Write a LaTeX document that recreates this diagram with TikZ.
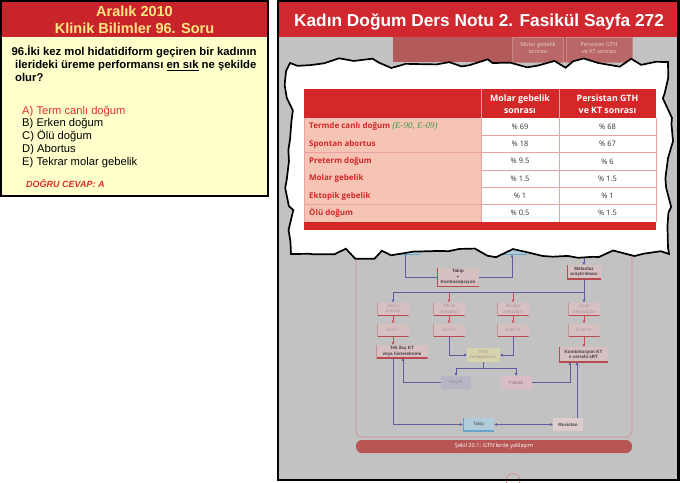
\documentclass[tikz,border=0pt]{standalone}
\usepackage{fontspec}
\setmainfont{Liberation Sans}
\newfontfamily\tablofont{Open Sans}
\newfontfamily\kaynakfont{Liberation Serif}
\usetikzlibrary{arrows.meta,decorations.pathmorphing}

\definecolor{solkirmizi}{HTML}{C9232B}
\definecolor{sagkirmizi}{HTML}{D0282E}
\definecolor{baslikyazi}{HTML}{FFE680}
\definecolor{govdesari}{HTML}{FFFFCC}
\definecolor{dogrukirmizi}{HTML}{E0302A}
\definecolor{sayfagri}{HTML}{C2C2C2}
\definecolor{tablokirmizi}{HTML}{D42828}
\definecolor{satirpembe}{HTML}{F5C4B5}
\definecolor{cizgipembe}{HTML}{E9A2A2}
\definecolor{kaynakyesil}{HTML}{3E9A4C}
\definecolor{degeryazi}{HTML}{333333}
\definecolor{solukbant}{HTML}{B35B5B}
\definecolor{solukhucre}{HTML}{B96767}
\definecolor{solukcizgi}{HTML}{C88888}
\definecolor{solukyazi}{HTML}{E8D0D0}
\definecolor{kutupembe}{HTML}{D6C0C2}
\definecolor{kutukenar}{HTML}{B84A50}
\definecolor{koyuyazi}{HTML}{4A4042}
\definecolor{soluk}{HTML}{B09498}
\definecolor{riskkutu}{HTML}{D6D4AC}
\definecolor{dusukkutu}{HTML}{B8B6C4}
\definecolor{yuksekkutu}{HTML}{D8BCC6}
\definecolor{takipkutu}{HTML}{B0CCDA}
\definecolor{mavikenar}{HTML}{6AA4CC}
\definecolor{mavicizgi}{HTML}{5E5E9E}
\definecolor{kirmizicizgi}{HTML}{D0485A}
\definecolor{cerceve}{HTML}{D89090}
\definecolor{altbaslik}{HTML}{B85656}

\newcommand{\boyut}[2]{\fontsize{#1}{#2}\selectfont}
\newcommand{\kaynak}[1]{{\kaynakfont\mdseries\itshape\boyut{9}{9}\color{kaynakyesil}#1}}

\tikzset{
  akis/.style={fill=kutupembe, minimum width=31pt, minimum height=13pt, inner sep=0.5pt,
    align=center, font=\boyut{4.6}{5.4}, text=soluk,
    path picture={\draw[kutukenar, line width=1.6pt] (path picture bounding box.north west)
      -- (path picture bounding box.south west) -- (path picture bounding box.south east);}},
  koyu/.style={akis, text=koyuyazi, font=\boyut{4.6}{5.4}\bfseries},
  mavikutu/.style={akis, fill=takipkutu, text=koyuyazi,
    path picture={\draw[mavikenar, line width=1.6pt] (path picture bounding box.north west)
      -- (path picture bounding box.south west) -- (path picture bounding box.south east);}},
  mavi/.style={draw=mavicizgi, line width=0.7pt, -{Triangle[length=2.6pt,width=2.6pt]}},
  kirmizi/.style={draw=kirmizicizgi, line width=0.7pt, -{Triangle[length=2.6pt,width=2.6pt]}},
  satiryazi/.style={inner sep=0pt, text height=6pt, text depth=1.8pt, text=tablokirmizi,
    font=\tablofont\boyut{8}{8}\bfseries},
  degeryazi/.style={inner sep=0pt, text=degeryazi, font=\tablofont\boyut{7.5}{7.5}}
}

\begin{document}
\begin{tikzpicture}[x=1pt,y=-1pt]
\useasboundingbox (0,0) rectangle (680,482);

% soru paneli
\fill[govdesari] (1,1) rectangle (268,196);
\fill[solkirmizi] (1,1) rectangle (268,37);
\draw[line width=2pt] (1,1) rectangle (268,196);

\node[anchor=base, inner sep=0pt, text=baslikyazi, font=\boyut{14.5}{14.5}\bfseries] (tarih) at (134.5,16.2) {Aralık 2010};
\node[anchor=base, inner sep=0pt, text=baslikyazi, font=\boyut{14.5}{14.5}\bfseries] (ders) at (134.5,33) {Klinik Bilimler 96. Soru};

\node[anchor=base west, inner sep=0pt, font=\boyut{11.3}{11.3}\bfseries] (soru1) at (11.5,55.5) {96.İki kez mol hidatidiform geçiren bir kadının};
\node[anchor=base west, inner sep=0pt, font=\boyut{11.3}{11.3}\bfseries] (soru2) at (15,68.5) {ilerideki üreme performansı \underline{en sık} ne şekilde};
\node[anchor=base west, inner sep=0pt, font=\boyut{11.3}{11.3}\bfseries] (soru3) at (15,81.5) {olur?};

\node[anchor=base west, inner sep=0pt, font=\boyut{11.2}{11.2}, text=dogrukirmizi] (secA) at (22,114) {A) Term canlı doğum};
\node[anchor=base west, inner sep=0pt, font=\boyut{11.2}{11.2}] (secB) at (22,126.8) {B) Erken doğum};
\node[anchor=base west, inner sep=0pt, font=\boyut{11.2}{11.2}] (secC) at (22,139.6) {C) Ölü doğum};
\node[anchor=base west, inner sep=0pt, font=\boyut{11.2}{11.2}] (secD) at (22,152.4) {D) Abortus};
\node[anchor=base west, inner sep=0pt, font=\boyut{11.2}{11.2}] (secE) at (22,165.2) {E) Tekrar molar gebelik};

\node[anchor=base west, inner sep=0pt, font=\boyut{9}{9}\bfseries\itshape, text=dogrukirmizi] (cevap) at (26,187.3) {DOĞRU CEVAP: A};

% ders notu paneli
\fill[sayfagri] (278,37) rectangle (678,480);
\fill[solukbant] (393,37) rectangle (633,62);
\draw[fill=solukhucre, draw=solukcizgi, line width=0.5pt] (512.5,37) rectangle (563.5,62);
\draw[fill=solukhucre, draw=solukcizgi, line width=0.5pt] (566,37) rectangle (632.5,62);
\node[align=center, inner sep=0pt, text=solukyazi, font=\tablofont\boyut{5.6}{7.5}] (solukmolar) at (538,48) {Molar gebelik\\sonrası};
\node[align=center, inner sep=0pt, text=solukyazi, font=\tablofont\boyut{5.6}{7.5}] (solukpersistan) at (599,48) {Persistan GTH\\ve KT sonrası};

% arka plandaki akis semasi
\draw[cerceve, line width=0.8pt, rounded corners=6pt] (356,238) rectangle (632,437);

\node[mavikutu, minimum width=30pt, minimum height=14pt] (ustsol) at (405,247.5) {};
\node[mavikutu, minimum width=30pt, minimum height=14pt] (ustorta) at (512,247.5) {};
\coordinate (ustsag) at (584,245);

\node[koyu, minimum width=42pt, minimum height=19pt] (takipk) at (458,277) {Takip\\+\\Kontrasepsiyon};
\node[koyu, minimum width=34pt, minimum height=14pt] (metastaz) at (584,272) {Metastaz\\araştırılması};

\node[akis] (uterin) at (393,309) {Uterin\\patoloji};
\node[akis] (pelvik) at (449,309) {Pelvik\\metastaz};
\node[akis] (akciger) at (513,309) {Akciğer\\metastazı};
\node[akis] (uzak) at (584,309) {Uzak\\metastazlar};

\node[akis] (evre1) at (393,330) {Evre I};
\node[akis] (evre2) at (449,330) {Evre II};
\node[akis] (evre3) at (513,330) {Evre III};
\node[akis] (evre4) at (584,330) {Evre IV};

\node[koyu, minimum width=51pt] (tekilac) at (402,351.5) {Tek ilaç KT\\veya histerektomi};
\node[akis, fill=riskkutu, minimum width=33pt, minimum height=14pt, path picture={}] (risk) at (483.5,355) {Risk\\hesaplaması};
\node[koyu, minimum width=49pt, minimum height=15pt] (kombi) at (583.5,354.5) {Kombinasyon KT\\± cerrahi ±RT};

\node[akis, fill=dusukkutu, minimum width=30pt, text=koyuyazi!60, path picture={}] (dusuk) at (456,382.5) {Düşük};
\node[akis, fill=yuksekkutu, text=soluk!80!black, path picture={}] (yuksek) at (516,382.5) {Yüksek};

\node[mavikutu] (takip) at (478.5,424.5) {Takip};
\node[koyu, minimum width=30pt, path picture={}, fill=kutupembe!80!white] (resistan) at (568,424.5) {Resistan};

\draw[mavicizgi, line width=0.7pt] (ustsol.south) |- (takipk.west);
\draw[mavi] (takipk.east) -| (ustorta.south);
\draw[mavi] (ustsag) -- (metastaz.north);
\coordinate (dal) at (584,292);
\draw[mavi] (metastaz.south) -- (dal) -| (uterin.north);
\draw[mavi] (dal) -- (uzak.north);
\draw[kirmizi] (pelvik.north |- dal) ++(0,1) -- (pelvik.north);
\draw[kirmizi] (akciger.north |- dal) ++(0,1) -- (akciger.north);

\draw[kirmizi] (uterin) -- (evre1);
\draw[kirmizi] (pelvik) -- (evre2);
\draw[kirmizi] (akciger) -- (evre3);
\draw[kirmizi] (uzak) -- (evre4);
\draw[kirmizi] (evre1.south) -- (evre1.south |- tekilac.north);
\draw[kirmizi] (evre4.south) -- (evre4.south |- kombi.north);

\draw[mavi] (evre2.south) |- (risk.west);
\draw[mavi] (evre3.south) |- (risk.east);
\draw[mavi] (risk.south) -- ++(0,6) -| (dusuk.north);
\draw[mavi] (risk.south) -- ++(0,6) -| (yuksek.north);
\draw[mavi] (dusuk.west) -| ([xshift=1pt]tekilac.south);
\draw[mavi] (yuksek.east) -| ([xshift=-13.5pt]kombi.south);
\draw[mavi] ([xshift=-9pt]tekilac.south) |- (takip.west);
\draw[draw=mavicizgi, line width=0.7pt, {Triangle[length=2.6pt,width=2.6pt]}-{Triangle[length=2.6pt,width=2.6pt]}] (takip.east) -- (resistan.west);
\draw[mavi] ([xshift=9pt]resistan.north) -- ([xshift=9pt]resistan.north |- kombi.south);

\fill[altbaslik, rounded corners=6pt] (356,440) rectangle (632,453);
\node[text=white, inner sep=0pt, font=\tablofont\boyut{5.6}{5.6}] (sekil) at (494,446.5) {Şekil 20.1: GTN'lerde yaklaşım};
\draw[cerceve, line width=0.8pt] (513,480.5) circle (7pt);

% tirtikli kutu
\pgfmathsetseed{23}
\draw[line width=1.7pt, fill=white, line join=miter, decorate,
  decoration={random steps, segment length=13pt, amplitude=5.5pt}]
  (290,63) -- (668,62) -- (669,254) -- (291,254) -- cycle;

% tablo
\fill[tablokirmizi] (304,89) rectangle (656,118);
\draw[cizgipembe, line width=0.6pt] (481,89) -- (481,118);
\draw[cizgipembe, line width=0.6pt] (559,89) -- (559,118);
\node[align=center, inner sep=0pt, text=white, font=\tablofont\boyut{8.8}{12.5}\bfseries] (molarbaslik) at (520,104) {Molar gebelik\\sonrası};
\node[align=center, inner sep=0pt, text=white, font=\tablofont\boyut{8.8}{12.5}\bfseries] (persistanbaslik) at (607.5,104) {Persistan GTH\\ve KT sonrası};

\foreach \i/\etiket/\molar/\persistan in {1/{Termde canlı doğum \kaynak{(E-90, E-09)}}/69/68, 2/Spontan abortus/18/67, 3/Preterm doğum/9.5/6, 4/Molar gebelik/1.5/1.5, 5/Ektopik gebelik/1/1, 6/Ölü doğum/0.5/1.5}
{
  \pgfmathsetmacro{\ust}{118+(\i-1)*17.33}
  \fill[satirpembe] (304,\ust) rectangle (481,\ust+17.33);
  \node[satiryazi, anchor=west] (etiket\i) at (309,\ust+8.67) {\etiket};
  \node[degeryazi] (molar\i) at (520,\ust+8.67) {\% \molar};
  \node[degeryazi] (persistan\i) at (607.5,\ust+8.67) {\% \persistan};
  \draw[cizgipembe, line width=0.6pt] (304,\ust+17.33) -- (656,\ust+17.33);
}
\draw[cizgipembe, line width=0.6pt] (304,118) -- (304,222);
\draw[cizgipembe, line width=0.6pt] (481,118) -- (481,222);
\draw[cizgipembe, line width=0.6pt] (559,118) -- (559,222);
\draw[cizgipembe, line width=0.6pt] (656,118) -- (656,222);
\fill[tablokirmizi] (304,222) rectangle (656,230);

% ust baslik
\fill[sagkirmizi] (278,1) rectangle (678,37);
\node[anchor=base, inner sep=0pt, text=white, font=\boyut{17.3}{17.3}\bfseries] (notbaslik) at (479,26) {Kadın Doğum Ders Notu 2. Fasikül Sayfa 272};
\draw[line width=2.4pt] (278,1.2) rectangle (678.5,480);

\end{tikzpicture}
\end{document}
